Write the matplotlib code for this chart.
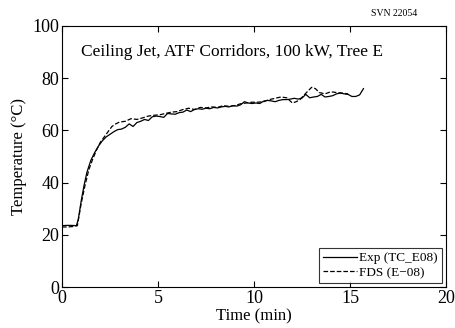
import numpy as np
import matplotlib.pyplot as plt

plt.rcParams['font.family'] = ['Liberation Serif', 'DejaVu Serif']

# Datos
t_exp = [0, 0.25, 0.5, 0.75, 0.85, 1.0, 1.15, 1.3, 1.5, 1.7, 1.9, 2.1, 2.3, 2.5, 2.7, 2.9,
         3.1, 3.3, 3.5, 3.7, 3.9, 4.1, 4.3, 4.5, 4.7, 4.9, 5.1, 5.3, 5.5, 5.7, 5.9, 6.1,
         6.3, 6.5, 6.7, 6.9, 7.1, 7.3, 7.5, 7.7, 7.9, 8.1, 8.3, 8.5, 8.7, 8.9, 9.1, 9.3,
         9.5, 9.7, 9.9, 10.1, 10.3, 10.5, 10.7, 10.9, 11.1, 11.3, 11.5, 11.7, 11.9, 12.1,
         12.3, 12.5, 12.7, 12.9, 13.1, 13.3, 13.5, 13.7, 13.9, 14.1, 14.3, 14.5, 14.7,
         14.9, 15.1, 15.3, 15.5, 15.7]
T_exp = [23.5, 23.6, 23.6, 23.5, 26, 33, 39, 44, 48.5, 51.5, 54, 56, 57.5, 58.5, 59.5, 60.3,
         60.5, 61.2, 62.5, 61.5, 63, 63.5, 64.2, 63.8, 65.2, 65.5, 65.3, 65.0, 66.5, 66.3,
         66.2, 66.8, 67.0, 67.8, 67.2, 68.0, 68.3, 68.1, 68.5, 68.3, 68.8, 68.6, 69.0,
         69.2, 69.0, 69.5, 69.3, 69.8, 71.0, 70.5, 70.3, 70.5, 70.3, 71.2, 71.5, 71.3,
         71.0, 71.5, 71.8, 71.8, 72.0, 72.3, 72.0, 72.4, 73.8, 72.5, 72.8, 73.0, 73.8,
         72.8, 73.0, 73.3, 74.0, 74.3, 74.0, 73.8, 73.0, 73.0, 73.6, 76.0]

t_fds = [0, 0.3, 0.6, 0.8, 1.0, 1.2, 1.4, 1.6, 1.8, 2.0, 2.2, 2.4, 2.6, 2.8, 3.0, 3.3,
         3.6, 3.9, 4.2, 4.5, 4.8, 5.1, 5.4, 5.7, 6.0, 6.3, 6.6, 6.9, 7.2, 7.5, 7.8, 8.1,
         8.4, 8.7, 9.0, 9.3, 9.6, 9.9, 10.2, 10.5, 10.8, 11.1, 11.4, 11.7, 12.0, 12.2,
         12.4, 12.6, 12.8, 13.0, 13.2, 13.4, 13.7, 14.0, 14.3, 14.6, 14.9]
T_fds = [23.0, 23.0, 23.2, 23.5, 32, 39, 45, 49, 52.5, 55.5, 57.5, 59.5, 61.5, 62.5, 63.2,
         63.5, 64.5, 64.2, 64.8, 65.5, 65.8, 66.0, 66.5, 67.0, 67.2, 68.0, 68.5, 68.0,
         68.8, 68.6, 69.0, 68.8, 69.5, 69.2, 69.5, 70.2, 70.5, 70.8, 70.8, 71.0, 71.8,
         72.3, 72.8, 72.5, 70.5, 71.0, 71.8, 73.5, 75.0, 76.5, 76.0, 74.5, 74.0, 74.8,
         74.5, 74.3, 74.0]

fig = plt.figure(figsize=(4.56, 3.28), dpi=100)
ax = fig.add_axes([62/456, 1-287/328, 384/456, 261/328])
ax.plot(t_exp, T_exp, 'k-', lw=0.9, label='Exp (TC_E08)')
ax.plot(t_fds, T_fds, 'k--', lw=0.9, label='FDS (E\u221208)')
ax.set_xlim(0, 20)
ax.set_ylim(0, 100)
ax.set_xticks([0, 5, 10, 15, 20])
ax.set_yticks([0, 20, 40, 60, 80, 100])
ax.tick_params(direction='in', length=4, labelsize=13, top=True, right=True, pad=2)
ax.set_xlabel('Time (min)', fontsize=12, labelpad=1)
ax.set_ylabel('Temperature (\u00b0C)', fontsize=12, labelpad=4)
ax.text(1.0, 90, 'Ceiling Jet, ATF Corridors, 100 kW, Tree E', fontsize=12.5, va='center')
leg = ax.legend(loc='lower right', fontsize=9.5, frameon=True, fancybox=False,
                edgecolor='black', borderpad=0.3, handlelength=2.6, handletextpad=0.2,
                labelspacing=0.2, borderaxespad=0.3)
leg.get_frame().set_linewidth(0.8)
fig.text(394/456, 1-14/328, 'SVN 22054', fontsize=7, ha='center', va='center')

plt.savefig('out.png', dpi=100)
